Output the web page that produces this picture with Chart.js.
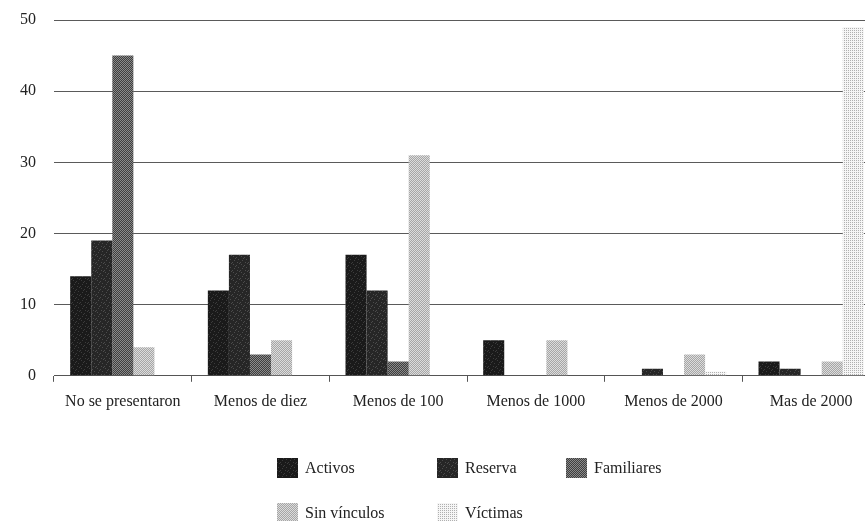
<!DOCTYPE html>
<html>
<head>
<meta charset="utf-8">
<script src="https://cdn.jsdelivr.net/npm/chart.js@4"></script>
<style>
  html, body { margin: 0; padding: 0; background: #fff; overflow: hidden; width: 865px; height: 521px; }
  #wrap { position: absolute; left: 0; top: 0; width: 880px; height: 521px; }
</style>
</head>
<body>
<div id="wrap"><canvas id="c"></canvas></div>
<script>
const categories = ['No se presentaron', 'Menos de diez', 'Menos de 100', 'Menos de 1000', 'Menos de 2000', 'Mas de 2000'];
const seriesNames = ['Activos', 'Reserva', 'Familiares', 'Sin vínculos', 'Víctimas'];
const activos     = [14, 12, 17, 5, 0, 2];
const reserva     = [19, 17, 12, 0, 1, 1];
const familiares  = [45, 3, 2, 0, 0, 0];
const sinVinculos = [4, 5, 31, 5, 3, 2];
const victimas    = [0, 0, 0, 0, 0.6, 49];
const yTicks      = [0, 10, 20, 30, 40, 50];

const FONT = '"Liberation Serif", "DejaVu Serif", serif';

function makePattern(bg, fg, cells, size) {
  const p = document.createElement('canvas');
  p.width = size; p.height = size;
  const g = p.getContext('2d');
  g.fillStyle = bg; g.fillRect(0, 0, size, size);
  g.fillStyle = fg;
  cells.forEach(([x, y]) => g.fillRect(x, y, 1, 1));
  return g.createPattern(p, 'repeat');
}
const ctx0 = document.getElementById('c').getContext('2d');
const speck = [[1,0],[4,1],[6,3],[2,4],[5,6],[0,6],[3,2],[7,7]];
const fills = [
  makePattern('#1a1a1a', '#3c3c3c', speck, 8),
  makePattern('#262626', '#4c4c4c', speck, 8),
  makePattern('#3e3e3e', '#8a8a8a', [[0,0],[1,1]], 2),
  makePattern('#a6a6a6', '#dcdcdc', [[0,0],[1,1]], 2),
  makePattern('#f6f6f6', '#b0b0b0', [[0,0],[2,0],[0,2],[2,2]], 4)
];
const seriesData = [activos, reserva, familiares, sinVinculos, victimas];

const legendPlugin = {
  id: 'gridLegend',
  afterDraw(chart) {
    const g = chart.ctx;
    const cols = [277, 437, 566];
    const rows = [468, 513];
    g.save();
    g.font = '16px ' + FONT;
    g.textBaseline = 'middle';
    chart.data.datasets.forEach((ds, i) => {
      const col = i < 3 ? i : i - 3;
      const row = i < 3 ? 0 : 1;
      const x = cols[col], y = rows[row];
      g.fillStyle = ds.backgroundColor;
      g.fillRect(x, y - 10, 21, 20);
      g.fillStyle = '#222';
      g.fillText(ds.label, x + 28, y + 1);
    });
    g.restore();
  }
};

new Chart(ctx0, {
  type: 'bar',
  data: {
    labels: categories,
    datasets: seriesNames.map((n, i) => ({
      label: n,
      data: seriesData[i],
      backgroundColor: fills[i],
      borderWidth: 0,
      barPercentage: 1.0,
      categoryPercentage: 0.765
    }))
  },
  options: {
    responsive: true,
    maintainAspectRatio: false,
    animation: false,
    devicePixelRatio: 1,
    layout: { padding: { top: 20, left: 2, right: 0, bottom: 100 } },
    plugins: { legend: { display: false }, tooltip: { enabled: false } },
    scales: {
      x: {
        offset: true,
        grid: { display: true, drawOnChartArea: false, drawTicks: true, tickLength: 6, color: '#555', offset: true },
        border: { display: true, color: '#555', width: 1 },
        ticks: { color: '#222', font: { family: FONT, size: 16 }, padding: 10, maxRotation: 0, autoSkip: false }
      },
      y: {
        min: 0, max: 50,
        afterBuildTicks(axis) { axis.ticks = yTicks.map(v => ({ value: v })); },
        grid: { display: true, drawTicks: false, color: '#5a5a5a', lineWidth: 1 },
        border: { display: false },
        ticks: { color: '#222', font: { family: FONT, size: 16, lineHeight: 0.1 }, padding: 18 }
      }
    }
  },
  plugins: [legendPlugin]
});
</script>
</body>
</html>
